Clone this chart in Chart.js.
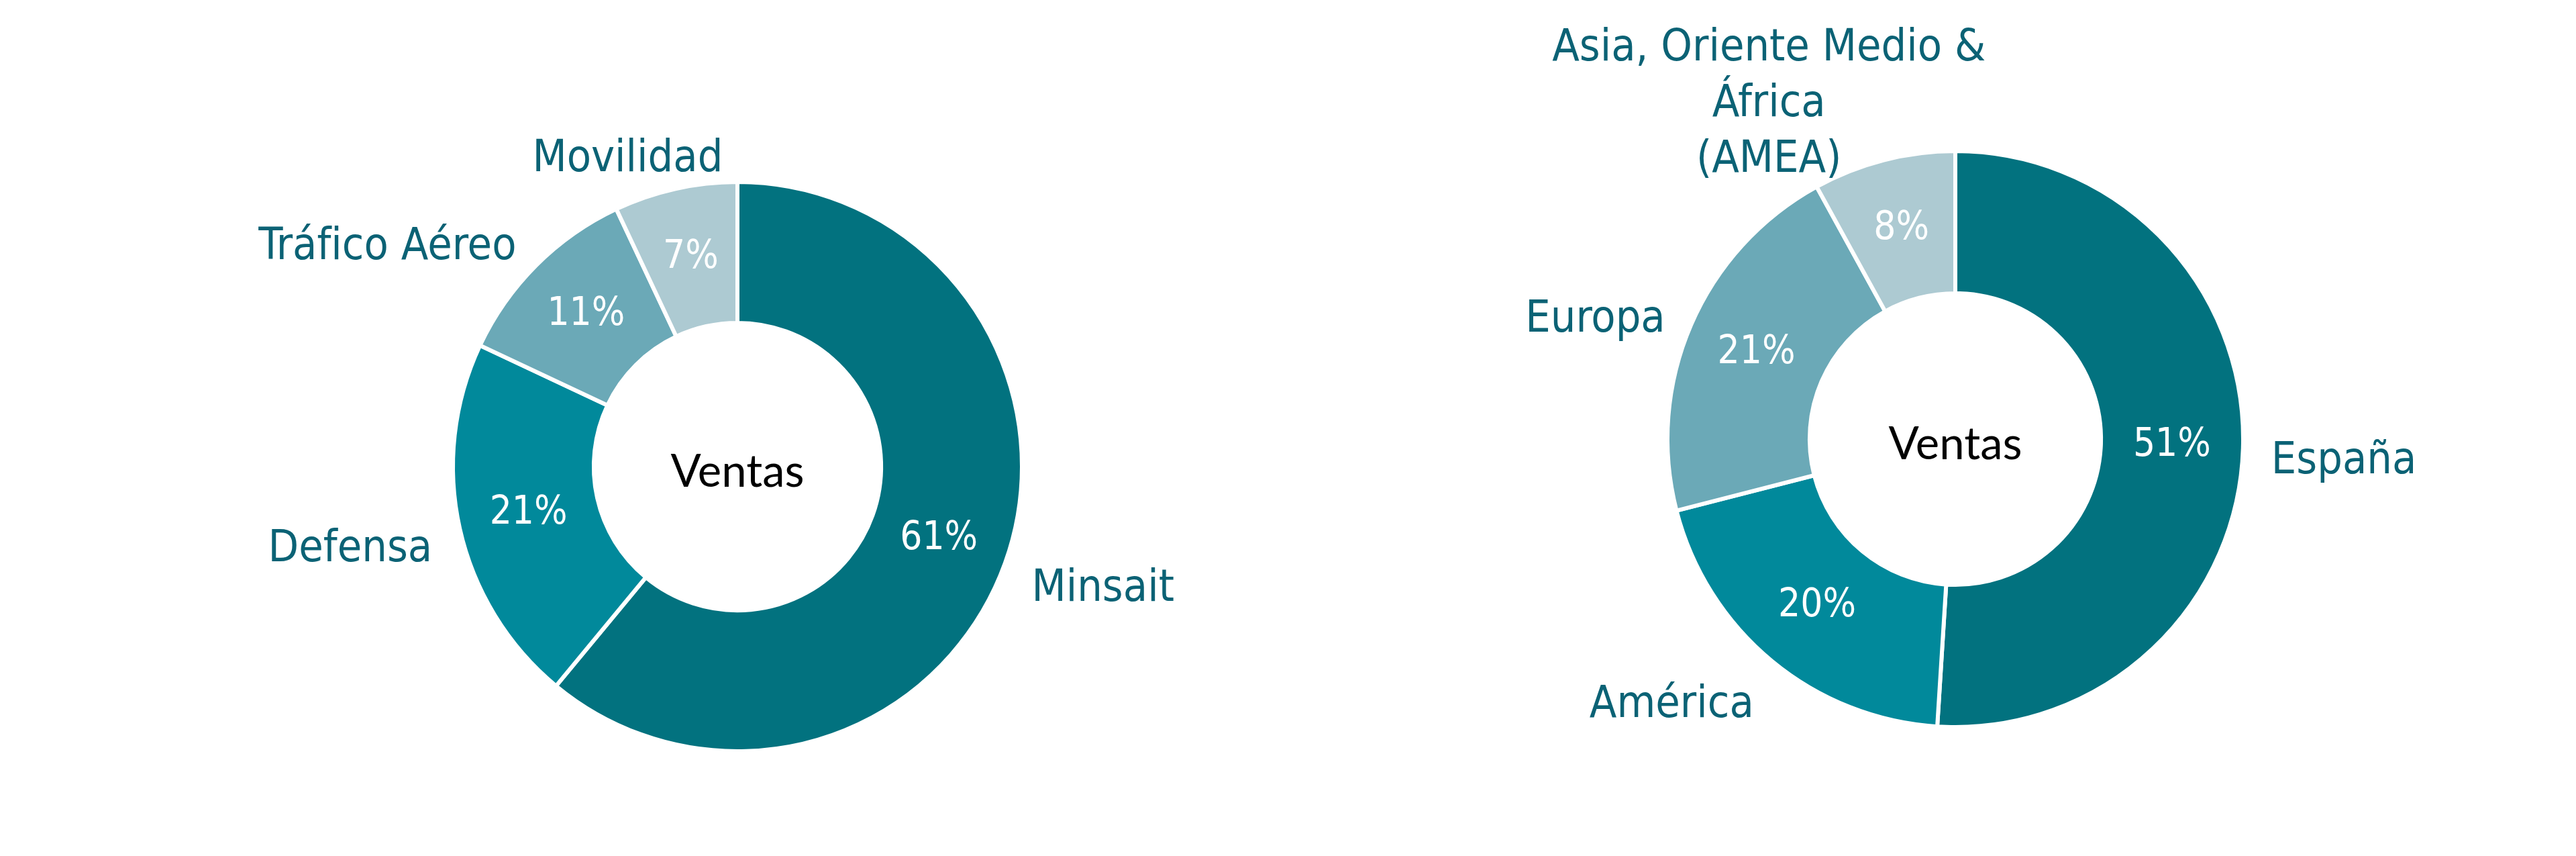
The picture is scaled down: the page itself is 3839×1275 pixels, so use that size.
<!DOCTYPE html>
<html lang="es">
<head>
    <meta charset="UTF-8">
    <title>Ventas por segmento y región</title>
    <script src="https://cdn.jsdelivr.net/npm/chart.js"></script>
    <style>
        body {
            margin: 0;
            background: #ffffff;
            width: 3839px;
            height: 1275px;
            overflow: hidden;
            position: relative;
        }
        .donut-box {
            position: absolute;
            top: 0;
            width: 1600px;
            height: 1275px;
        }
        #leftBox { left: 299px; }
        #rightBox { left: 2114px; }
    </style>
</head>
<body>
    <div class="donut-box" id="leftBox"><canvas id="segmentChart"></canvas></div>
    <div class="donut-box" id="rightBox"><canvas id="regionChart"></canvas></div>

    <script>
        const segmentLabels = ['Minsait', 'Defensa', 'Tráfico Aéreo', 'Movilidad'];
        const segmentValues = [61, 21, 11, 7];

        const regionLabels = ['España', 'América', 'Europa', ['Asia, Oriente Medio &', 'África', '(AMEA)']];
        const regionValues = [51, 20, 21, 8];

        const sliceColors = ['#02727f', '#01899b', '#6ba9b7', '#adcad2'];
        const centerTitle = 'Ventas';

        const labelFont = '"DejaVu Sans Condensed", "Liberation Sans Narrow", sans-serif';

        // percentages inside the ring, names outside, title in the hole
        const donutText = {
            id: 'donutText',
            afterDatasetsDraw(chart) {
                const ctx = chart.ctx;
                const meta = chart.getDatasetMeta(0);
                const values = chart.data.datasets[0].data;
                ctx.save();
                ctx.textAlign = 'center';
                ctx.textBaseline = 'middle';
                meta.data.forEach((arc, i) => {
                    const p = arc.tooltipPosition();
                    ctx.font = '58px ' + labelFont;
                    ctx.fillStyle = '#ffffff';
                    ctx.fillText(values[i] + '%', p.x, p.y);

                    // outside label: side-aligned, centred when near the top/bottom
                    const mid = (arc.startAngle + arc.endAngle) / 2;
                    const cos = Math.cos(mid), sin = Math.sin(mid);
                    const r = arc.outerRadius + 42;
                    const ax = arc.x + r * cos, ay = arc.y + r * sin;
                    const lines = [].concat(chart.data.labels[i]);
                    ctx.font = '66px ' + labelFont;
                    const w = Math.max(...lines.map(l => ctx.measureText(l).width));
                    const lh = 83;
                    const h = lines.length * lh;
                    const t = Math.min(1, Math.abs(cos) / 0.5);
                    const cx = ax + Math.sign(cos) * (w / 2) * t;
                    const cy = ay + 18 + (h / 2) * sin * 0.5;
                    ctx.fillStyle = '#0b6275';
                    lines.forEach((l, k) => ctx.fillText(l, cx, cy - h / 2 + lh * (k + 0.5)));
                });
                const c = meta.data[0];
                ctx.font = '67px Lato, "Open Sans", sans-serif';
                ctx.fillStyle = '#000000';
                ctx.fillText(centerTitle, c.x, c.y + 8);
                ctx.restore();
            }
        };

        function makeDonut(id, labels, values, radius, cutout, padTop) {
            return new Chart(document.getElementById(id), {
                type: 'doughnut',
                data: {
                    labels: labels,
                    datasets: [{
                        data: values,
                        backgroundColor: sliceColors,
                        borderColor: '#ffffff',
                        borderWidth: 6
                    }]
                },
                options: {
                    responsive: true,
                    maintainAspectRatio: false,
                    animation: false,
                    radius: radius,
                    cutout: cutout,
                    layout: { padding: { top: padTop, bottom: 0, left: 0, right: 0 } },
                    plugins: {
                        legend: { display: false },
                        tooltip: { enabled: false }
                    }
                },
                plugins: [donutText]
            });
        }

        makeDonut('segmentChart', segmentLabels, segmentValues, 424, '50.5%', 115);
        makeDonut('regionChart', regionLabels, regionValues, 429, '50.6%', 33);
    </script>
</body>
</html>
